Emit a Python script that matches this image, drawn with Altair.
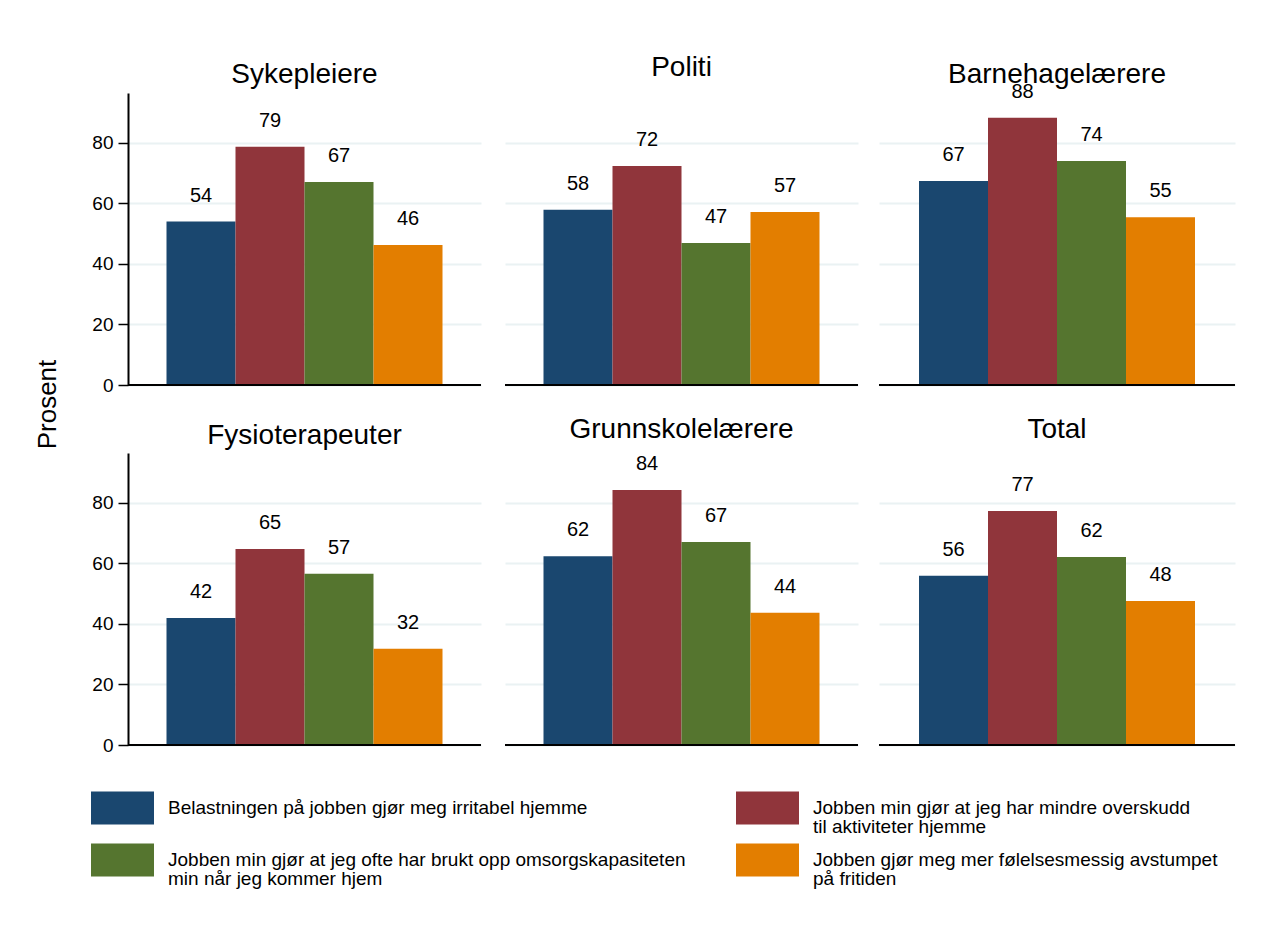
import altair as alt
import pandas as pd

FONT = "Liberation Sans"
GRID = "#eaf2f3"

panels = ["Sykepleiere", "Politi", "Barnehagelærere",
          "Fysioterapeuter", "Grunnskolelærere", "Total"]
title_offsets = [-17.5, -11, -29.5, -18.5, -12.5, -12.5]
panel_widths = [353, 353, 356, 353, 353, 356]

series_keys = [
    "Belastningen på jobben gjør meg irritabel hjemme",
    "Jobben min gjør at jeg har mindre overskudd til aktiviteter hjemme",
    "Jobben min gjør at jeg ofte har brukt opp omsorgskapasiteten min når jeg kommer hjem",
    "Jobben gjør meg mer følelsesmessig avstumpet på fritiden",
]
legend_labels = [
    "Belastningen på jobben gjør meg irritabel hjemme",
    "Jobben min gjør at jeg har mindre overskudd\ntil aktiviteter hjemme",
    "Jobben min gjør at jeg ofte har brukt opp omsorgskapasiteten\nmin når jeg kommer hjem",
    "Jobben gjør meg mer følelsesmessig avstumpet\npå fritiden",
]
colors = ["#1a476f", "#90353b", "#55752f", "#e37e00"]

sykepleiere = [54.0, 78.7, 67.1, 46.3]
politi = [57.9, 72.4, 46.9, 57.2]
barnehage = [67.4, 88.3, 74.0, 55.4]
fysio = [42.0, 64.8, 56.6, 31.8]
grunnskole = [62.4, 84.3, 67.1, 43.7]
total = [55.9, 77.3, 62.1, 47.6]
values = [sykepleiere, politi, barnehage, fysio, grunnskole, total]

y_ticks = [0, 20, 40, 60, 80]

color_scale = alt.Scale(domain=series_keys, range=colors)


def panel(i):
    df = pd.DataFrame({"serie": series_keys, "verdi": values[i]})
    if i % 3 == 0:
        yaxis = alt.Axis(values=y_ticks, tickSize=10, tickWidth=1.5, tickColor="black",
                         domainColor="black", domainWidth=2, labelFontSize=19,
                         labelFont=FONT, labelColor="black", labelPadding=5,
                         gridColor=GRID, gridWidth=2, title=None)
    else:
        yaxis = alt.Axis(values=y_ticks, labels=False, ticks=False, domain=False,
                         gridColor=GRID, gridWidth=2, title=None)
    y = alt.Y("verdi:Q", scale=alt.Scale(domain=[0, 96.5], nice=False), axis=yaxis)
    w = panel_widths[i]
    pad_outer = (w / 69.0 - 4) / 2
    x = alt.X("serie:N", sort=series_keys,
              scale=alt.Scale(paddingInner=0, paddingOuter=pad_outer), axis=None)
    base = alt.Chart(df)
    bars = base.mark_bar().encode(
        x=x, y=y,
        color=alt.Color("serie:N", scale=color_scale, legend=None))
    labels = base.mark_text(dy=-26, baseline="middle", fontSize=20, font=FONT,
                            color="black").encode(
        x=x, y=alt.Y("verdi:Q"), text=alt.Text("verdi:Q", format=".0f"))
    zero = alt.Chart(pd.DataFrame({"null": [0]})).mark_rule(
        color="black", strokeWidth=2).encode(y=alt.Y("null:Q"))
    return alt.layer(bars, labels, zero).properties(
        width=w, height=292,
        title=alt.TitleParams(panels[i], fontSize=28, font=FONT, fontWeight="normal",
                              baseline="alphabetic", offset=title_offsets[i],
                              anchor="middle", color="black"))


def row(a, b, c):
    return alt.hconcat(alt.hconcat(panel(a), panel(b), spacing=22), panel(c), spacing=19)


row1 = row(0, 1, 2)
row2 = row(3, 4, 5)
grid = alt.vconcat(row1, row2, spacing=20).properties(
    title=alt.TitleParams("Prosent", orient="left", anchor="middle", fontSize=26,
                          font=FONT, fontWeight="normal", offset=31, color="black"))

leg_df = pd.DataFrame({"serie": series_keys, "tekst": legend_labels,
                       "kol": [0, 1, 0, 1], "rad": [0, 0, 1, 1]})
lx = alt.X("kol:Q", scale=alt.Scale(domain=[0, 1], range=[-37, 608]), axis=None)
ly = alt.Y("rad:Q", scale=alt.Scale(domain=[0, 1], range=[33, 85]), axis=None)
swatches = alt.Chart(leg_df).mark_point(
    shape="M0,-0.52H2V0.52H0Z", size=3969, filled=True, opacity=1, strokeWidth=0
).encode(x=lx, y=ly, color=alt.Color("serie:N", scale=color_scale, legend=None))
texts = alt.Chart(leg_df).mark_text(
    align="left", baseline="middle", dx=77, fontSize=19, font=FONT,
    lineBreak="\n", lineHeight=19, color="black"
).encode(x=lx, y=ly, text="tekst:N")
legend = alt.layer(swatches, texts).properties(width=1100, height=100)

chart = alt.vconcat(grid, legend, spacing=20).properties(
    padding={"left": 26, "top": 46, "right": 5, "bottom": 5}
).configure(background="white", view=alt.ViewConfig(stroke=None))

chart.save("out.html", embed_options={"renderer": "svg", "actions": False})
